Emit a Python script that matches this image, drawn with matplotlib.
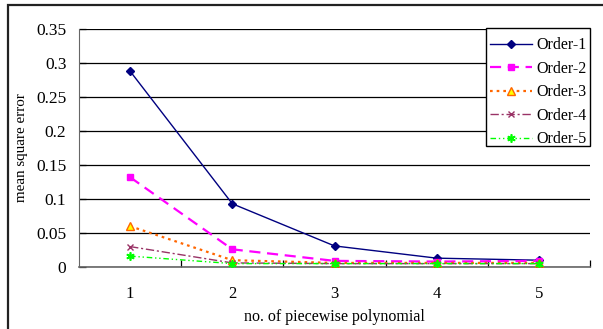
import matplotlib.pyplot as plt
from matplotlib.patches import Rectangle

plt.rcParams['font.family'] = ['Liberation Serif', 'DejaVu Serif']

# data
pieces = [1, 2, 3, 4, 5]
order1 = [0.288, 0.093, 0.031, 0.013, 0.010]
order2 = [0.132, 0.026, 0.009, 0.008, 0.009]
order3 = [0.060, 0.010, 0.006, 0.006, 0.006]
order4 = [0.030, 0.006, 0.005, 0.005, 0.005]
order5 = [0.016, 0.005, 0.005, 0.005, 0.005]
series_names = ['Order-1', 'Order-2', 'Order-3', 'Order-4', 'Order-5']
y_ticks = [0, 0.05, 0.1, 0.15, 0.2, 0.25, 0.3, 0.35]
y_tick_labels = ['0', '0.05', '0.1', '0.15', '0.2', '0.25', '0.3', '0.35']

W, H = 603, 329
fig = plt.figure(figsize=(W / 100, H / 100), dpi=100)
ax = fig.add_axes([79 / W, 1 - 267 / H, (590 - 79) / W, (267 - 29) / H])

# outer chart frame (top and left visible)
fig.patches.append(Rectangle((8 / W, -0.05), 1.2, 1 - 4.5 / H + 0.05,
                             transform=fig.transFigure, fill=False,
                             edgecolor='#222222', linewidth=1.6))

styles = [
    dict(color='#000080', linestyle='-', linewidth=1.0, marker='D', markersize=4.5,
         markerfacecolor='#000080', markeredgecolor='#000080'),
    dict(color='#FF00FF', linestyle=(0, (5, 3)), linewidth=1.6, marker='s', markersize=5,
         markerfacecolor='#FF00FF', markeredgecolor='#FF00FF'),
    dict(color='#FF6600', linestyle=(0, (1.2, 1.8)), linewidth=1.6, marker='^', markersize=5.5,
         markerfacecolor='#FFFF00', markeredgecolor='#FF6600', markeredgewidth=1.0),
    dict(color='#993366', linestyle=(0, (6, 2, 1.5, 2)), linewidth=1.0, marker='x', markersize=5,
         markeredgecolor='#993366', markeredgewidth=1.0),
    dict(color='#00FF00', linestyle=(0, (4, 2, 1, 2, 1, 2)), linewidth=1.0, marker=(6, 2, 0),
         markersize=6, markeredgecolor='#00FF00', markeredgewidth=1.2),
]

for vals, name, st in zip([order1, order2, order3, order4, order5], series_names, styles):
    ax.plot(pieces, vals, label=name, zorder=3, **st)

ax.set_xlim(0.5, 5.5)
ax.set_ylim(0, 0.35)
ax.set_yticks(y_ticks)
ax.set_yticklabels(y_tick_labels)
ax.yaxis.grid(True, color='black', linewidth=0.9)
ax.set_axisbelow(True)

# category axis: labels at centers, ticks between categories
ax.set_xticks(pieces)
ax.set_xticklabels([str(p) for p in pieces])
ax.set_xticks([1.5, 2.5, 3.5, 4.5, 5.5], minor=True)
ax.tick_params(axis='x', which='major', length=0, pad=14, labelsize=12)
ax.tick_params(axis='x', which='minor', length=5, direction='in', width=0.9)
ax.tick_params(axis='y', length=5, direction='in', pad=9, labelsize=12.5, width=0.9)

for s in ['top', 'right']:
    ax.spines[s].set_visible(False)
ax.spines['left'].set_color('#666666')
ax.spines['bottom'].set_color('#666666')
ax.spines['bottom'].set_linewidth(1.2)

ax.set_xlabel('no. of piecewise polynomial', fontsize=11.5, labelpad=5)
ax.set_ylabel('mean square error', fontsize=10.8, labelpad=6)

# legend entries without frame, box drawn separately (Excel-like padding)
leg = fig.legend(loc='upper left', bbox_to_anchor=(483 / W, 1 - 30 / H), frameon=False,
                 fontsize=11.5, handlelength=2.6, borderpad=0.45,
                 labelspacing=0.47, handletextpad=0.3, borderaxespad=0.0)
fig.patches.append(Rectangle((486 / W, 1 - 146 / H), (590 - 486) / W, (146 - 28) / H,
                             transform=fig.transFigure, facecolor='white',
                             edgecolor='black', linewidth=1.0, zorder=4))
leg.set_zorder(5)

fig.savefig('out.png', dpi=100)
